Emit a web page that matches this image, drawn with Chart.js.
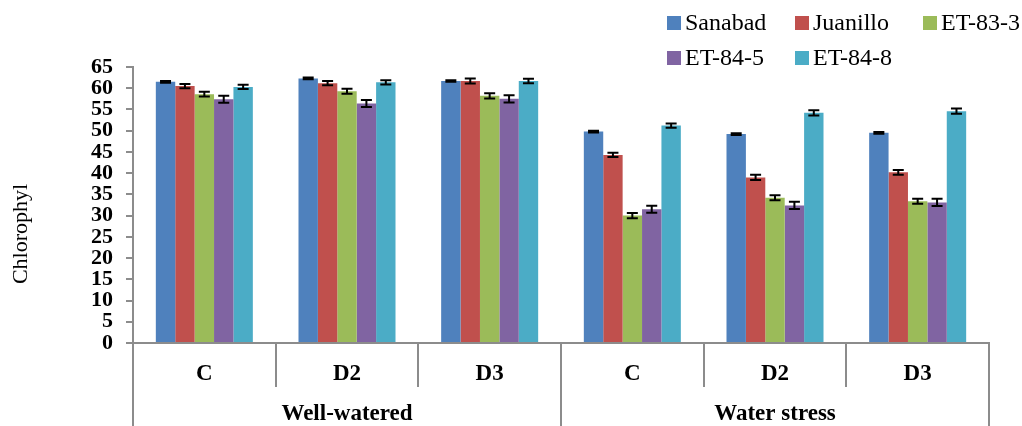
<!DOCTYPE html>
<html>
<head>
<meta charset="utf-8">
<script src="https://cdn.jsdelivr.net/npm/chart.js@4.4.1/dist/chart.umd.min.js"></script>
<style>
  html, body { margin: 0; padding: 0; background: #ffffff; }
  #wrap { position: relative; width: 1022px; height: 426px; }
</style>
</head>
<body>
<div id="wrap"><canvas id="chart" width="1022" height="426"></canvas></div>
<script>
// Treatments (x categories) and their irrigation regime groups
const categories = ['C', 'D2', 'D3', 'C', 'D2', 'D3'];
const groups = ['Well-watered', 'Water stress'];
const groupSpan = 3; // categories per group

// Genotypes
const seriesNames = ['Sanabad', 'Juanillo', 'ET-83-3', 'ET-84-5', 'ET-84-8'];
const seriesColors = ['#4F81BD', '#C0504D', '#9BBB59', '#8064A2', '#4BACC6'];

// Chlorophyll means per genotype
const sanabad  = [61.5, 62.3, 61.7, 49.8, 49.2, 49.5];
const juanillo = [60.5, 61.2, 61.7, 44.3, 39.0, 40.2];
const et833    = [58.6, 59.3, 58.2, 30.0, 34.2, 33.4];
const et845    = [57.4, 56.4, 57.5, 31.5, 32.4, 33.1];
const et848    = [60.3, 61.4, 61.7, 51.2, 54.2, 54.6];

// Standard errors per genotype
const sanabadErr  = [0.2, 0.2, 0.2, 0.2, 0.2, 0.2];
const juanilloErr = [0.5, 0.5, 0.6, 0.5, 0.6, 0.55];
const et833Err    = [0.55, 0.6, 0.6, 0.6, 0.6, 0.6];
const et845Err    = [0.8, 0.8, 0.85, 0.85, 0.85, 0.85];
const et848Err    = [0.5, 0.5, 0.55, 0.5, 0.6, 0.6];

// Y axis
const yMin = 0, yMax = 65, yStep = 5;
const yTitle = 'Chlorophyl';

const seriesValues = [sanabad, juanillo, et833, et845, et848];
const seriesErrors = [sanabadErr, juanilloErr, et833Err, et845Err, et848Err];

const SERIF = '"Liberation Serif", "Times New Roman", serif';
const AXIS_GREY = '#8c8c8c';

// Error bars with caps on top of every bar
const errorBars = {
  id: 'errorBars',
  afterDatasetsDraw(chart) {
    const ctx = chart.ctx;
    const y = chart.scales.y;
    ctx.save();
    ctx.strokeStyle = '#000000';
    ctx.lineWidth = 2;
    chart.data.datasets.forEach((ds, di) => {
      const meta = chart.getDatasetMeta(di);
      meta.data.forEach((bar, i) => {
        const v = ds.data[i], e = ds.errors[i];
        const yt = y.getPixelForValue(v + e);
        const yb = y.getPixelForValue(v - e);
        const cx = bar.x, cap = 5.5;
        ctx.beginPath();
        ctx.moveTo(cx, yt); ctx.lineTo(cx, yb);
        ctx.moveTo(cx - cap, yt); ctx.lineTo(cx + cap, yt);
        ctx.moveTo(cx - cap, yb); ctx.lineTo(cx + cap, yb);
        ctx.stroke();
      });
    });
    ctx.restore();
  }
};

// Two-level category axis: separators, group labels, legend and y title
const decorations = {
  id: 'decorations',
  afterDraw(chart) {
    const ctx = chart.ctx;
    const area = chart.chartArea;
    const n = categories.length;
    const step = (area.right - area.left) / n;
    ctx.save();

    // separators under the axis
    ctx.strokeStyle = AXIS_GREY;
    ctx.lineWidth = 2;
    for (let i = 0; i <= n; i++) {
      const px = Math.round(area.left + i * step);
      const isGroupEdge = i % groupSpan === 0;
      ctx.beginPath();
      ctx.moveTo(px, area.bottom);
      ctx.lineTo(px, isGroupEdge ? chart.height : area.bottom + 44);
      ctx.stroke();
    }

    // group labels
    ctx.fillStyle = '#000000';
    ctx.font = 'bold 23px ' + SERIF;
    ctx.textAlign = 'center';
    ctx.textBaseline = 'middle';
    groups.forEach((g, gi) => {
      const cx = area.left + (gi * groupSpan + groupSpan / 2) * step;
      ctx.fillText(g, cx, area.bottom + 71);
    });

    // y axis title
    ctx.save();
    ctx.translate(21, 234);
    ctx.rotate(-Math.PI / 2);
    ctx.font = '22px ' + SERIF;
    ctx.fillText(yTitle, 0, 0);
    ctx.restore();

    // legend: three columns, wrapping rows
    const colX = [667, 795, 923];
    const rowY = [23, 58];
    ctx.font = '24px ' + SERIF;
    ctx.textAlign = 'left';
    seriesNames.forEach((name, i) => {
      const lx = colX[i % 3], ly = rowY[Math.floor(i / 3)];
      ctx.fillStyle = seriesColors[i];
      ctx.fillRect(lx, ly - 7, 14, 14);
      ctx.fillStyle = '#000000';
      ctx.fillText(name, lx + 18, ly + 1);
    });
    ctx.restore();
  }
};

const datasets = seriesNames.map((name, i) => ({
  label: name,
  data: seriesValues[i],
  errors: seriesErrors[i],
  backgroundColor: seriesColors[i],
  borderWidth: 0,
  barPercentage: 1.0,
  categoryPercentage: 0.68
}));

new Chart(document.getElementById('chart'), {
  type: 'bar',
  data: { labels: categories, datasets },
  options: {
    responsive: false,
    animation: false,
    layout: { padding: { top: 67, right: 33, bottom: 0, left: 0 } },
    plugins: { legend: { display: false }, tooltip: { enabled: false } },
    scales: {
      x: {
        grid: { display: false, drawTicks: false },
        border: { display: true, color: AXIS_GREY, width: 2 },
        ticks: {
          color: '#000000',
          font: { family: SERIF, size: 23, weight: 'bold' },
          padding: 17,
          maxRotation: 0,
          autoSkip: false
        },
        afterFit(scale) { scale.height = 83; }
      },
      y: {
        min: yMin,
        max: yMax,
        grid: { drawOnChartArea: false, drawTicks: true, tickLength: 7, color: AXIS_GREY, lineWidth: 2 },
        border: { display: true, color: AXIS_GREY, width: 2 },
        ticks: {
          stepSize: yStep,
          autoSkip: false,
          color: '#000000',
          padding: 13,
          font: { family: SERIF, size: 22, weight: 'bold', lineHeight: 1.0 }
        },
        afterFit(scale) { scale.width = 133; }
      }
    }
  },
  plugins: [errorBars, decorations]
});
</script>
</body>
</html>
